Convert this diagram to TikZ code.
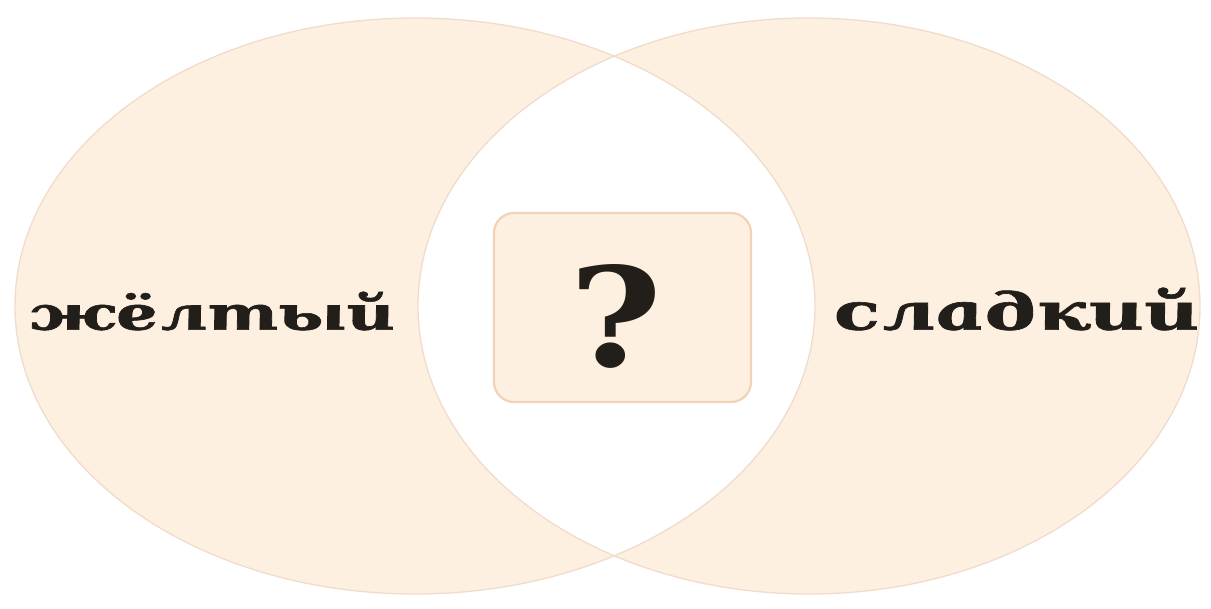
\documentclass[tikz,border=0pt]{standalone}
\usepackage{fontspec}
\usepackage{graphicx}
\newfontfamily\labfont[FakeSlant=-0.18,FakeBold=1.2]{DejaVu Serif Bold Italic}
\newfontfamily\qfont{DejaVu Serif Bold}
\definecolor{peach}{HTML}{FDF0E0}
\definecolor{peachline}{HTML}{F1DCCB}
\definecolor{boxline}{HTML}{F2D3BA}
\definecolor{ink}{HTML}{221E1A}
\tikzset{
  ring/.style={draw=peachline, line width=1.3pt},
  qbox/.style={draw=boxline, fill=peach, line width=2.2pt, rounded corners=20pt, minimum width=257pt, minimum height=189pt, inner sep=0pt},
  word/.style={inner sep=0pt, text=ink}
}
\begin{document}
\begin{tikzpicture}[x=1pt,y=-1pt]
\useasboundingbox (0,0) rectangle (1211,609);
\fill[white] (0,0) rectangle (1211,609);
\fill[peach] (415,306) ellipse [x radius=400pt, y radius=288pt];
\fill[peach] (809,306) ellipse [x radius=391pt, y radius=288pt];
\begin{scope}
  \clip (415,306) ellipse [x radius=400pt, y radius=288pt];
  \fill[white] (809,306) ellipse [x radius=391pt, y radius=288pt];
\end{scope}
\draw[ring] (415,306) ellipse [x radius=400pt, y radius=288pt];
\draw[ring] (809,306) ellipse [x radius=391pt, y radius=288pt];
\node[qbox] (box) at (622.5,307.5) {};
\node[word] (q) at (616,316) {\resizebox{93pt}{102pt}{\qfont ?}};
\node[word] (yellow) at (215,311) {\resizebox{366pt}{38pt}{\labfont жёлтый}};
\node[word] (sweet) at (1020,309) {\resizebox{365pt}{42pt}{\labfont сладкий}};
\end{tikzpicture}
\end{document}
